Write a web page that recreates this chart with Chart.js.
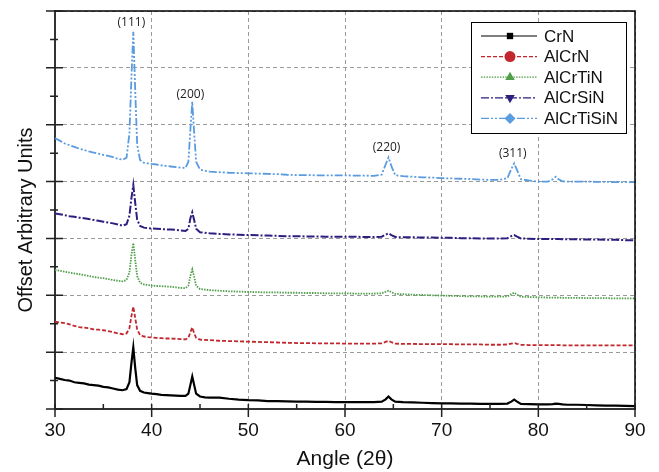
<!DOCTYPE html>
<html>
<head>
<meta charset="utf-8">
<script src="https://cdn.jsdelivr.net/npm/chart.js@4"></script>
<style>
    body { margin: 0; background: #fff; }
    #wrap { width: 659px; height: 472px; position: relative; }
</style>
</head>
<body>
<div id="wrap"><canvas id="xrdChart"></canvas></div>
<script>
const angles = [
    30, 30.5, 31, 31.5, 32, 32.5, 33, 33.5, 34, 34.5, 35, 35.5, 36, 36.5, 37, 37.4, 37.7, 37.9, 38.1, 38.3,
    38.5, 38.8, 39.2, 39.6, 40, 40.5, 41, 41.5, 42, 42.5, 43, 43.5, 43.8, 44.0, 44.2, 44.4, 44.6, 45, 45.5, 46,
    47, 48, 49, 50, 51, 52, 53, 54, 55, 56, 57, 58, 59, 60, 61, 62, 63, 63.8, 64.2, 64.5,
    64.8, 65.2, 66, 67, 68, 69, 70, 71, 72, 73, 74, 75, 76, 76.8, 77.2, 77.5, 77.8, 78.2, 79, 80,
    81, 81.5, 81.8, 82.1, 82.5, 83, 84, 85, 86, 87, 88, 89, 90
];

const crn = [
    0.55, 0.53, 0.51, 0.50, 0.47, 0.46, 0.45, 0.43, 0.42, 0.41, 0.39, 0.38, 0.36, 0.34, 0.33, 0.35, 0.47, 0.80, 1.085, 0.72,
    0.42, 0.32, 0.29, 0.28, 0.27, 0.26, 0.25, 0.245, 0.24, 0.235, 0.23, 0.23, 0.27, 0.42, 0.57, 0.42, 0.27, 0.22, 0.205, 0.20,
    0.20, 0.18, 0.165, 0.155, 0.15, 0.14, 0.14, 0.135, 0.13, 0.13, 0.125, 0.125, 0.12, 0.12, 0.12, 0.12, 0.12, 0.13, 0.17, 0.22,
    0.17, 0.13, 0.12, 0.115, 0.11, 0.105, 0.10, 0.10, 0.095, 0.095, 0.09, 0.09, 0.09, 0.095, 0.13, 0.165, 0.13, 0.09, 0.085, 0.08,
    0.08, 0.085, 0.095, 0.09, 0.08, 0.075, 0.075, 0.07, 0.065, 0.06, 0.06, 0.055, 0.05
];

const alcrn = [
    1.535, 1.52, 1.51, 1.49, 1.46, 1.44, 1.43, 1.42, 1.40, 1.395, 1.385, 1.37, 1.35, 1.33, 1.315, 1.33, 1.42, 1.63, 1.80, 1.60,
    1.40, 1.30, 1.275, 1.265, 1.26, 1.25, 1.245, 1.24, 1.24, 1.235, 1.23, 1.225, 1.25, 1.35, 1.435, 1.33, 1.25, 1.22, 1.215, 1.21,
    1.20, 1.195, 1.19, 1.185, 1.18, 1.175, 1.17, 1.165, 1.16, 1.16, 1.155, 1.155, 1.155, 1.15, 1.15, 1.15, 1.15, 1.155, 1.18, 1.20,
    1.175, 1.15, 1.145, 1.145, 1.14, 1.14, 1.14, 1.14, 1.135, 1.135, 1.135, 1.13, 1.13, 1.135, 1.15, 1.16, 1.145, 1.13, 1.125, 1.125,
    1.125, 1.125, 1.125, 1.125, 1.12, 1.12, 1.12, 1.12, 1.12, 1.12, 1.12, 1.12, 1.12
];

const alcrtin = [
    2.445, 2.43, 2.415, 2.40, 2.385, 2.37, 2.355, 2.34, 2.325, 2.31, 2.30, 2.285, 2.27, 2.255, 2.245, 2.27, 2.40, 2.70, 2.915, 2.62,
    2.34, 2.22, 2.19, 2.18, 2.17, 2.165, 2.16, 2.155, 2.15, 2.14, 2.13, 2.125, 2.17, 2.34, 2.455, 2.32, 2.17, 2.11, 2.10, 2.09,
    2.08, 2.07, 2.065, 2.06, 2.055, 2.05, 2.05, 2.045, 2.045, 2.04, 2.04, 2.035, 2.035, 2.035, 2.03, 2.03, 2.03, 2.035, 2.06, 2.08,
    2.055, 2.025, 2.02, 2.01, 2.005, 2.0, 1.995, 1.99, 1.985, 1.98, 1.98, 1.975, 1.975, 1.98, 2.02, 2.045, 2.01, 1.975, 1.97, 1.965,
    1.96, 1.96, 1.96, 1.96, 1.955, 1.955, 1.955, 1.95, 1.95, 1.95, 1.945, 1.945, 1.945
];

const alcrsin = [
    3.44, 3.425, 3.41, 3.39, 3.38, 3.365, 3.355, 3.34, 3.325, 3.31, 3.295, 3.28, 3.265, 3.245, 3.225, 3.25, 3.40, 3.70, 3.94, 3.62,
    3.33, 3.22, 3.19, 3.18, 3.175, 3.17, 3.165, 3.16, 3.155, 3.15, 3.14, 3.13, 3.17, 3.35, 3.46, 3.32, 3.17, 3.11, 3.10, 3.09,
    3.08, 3.07, 3.065, 3.06, 3.055, 3.05, 3.045, 3.04, 3.04, 3.035, 3.035, 3.03, 3.03, 3.03, 3.03, 3.025, 3.025, 3.03, 3.065, 3.09,
    3.06, 3.025, 3.02, 3.02, 3.015, 3.015, 3.01, 3.01, 3.005, 3.005, 3.0, 3.0, 3.0, 3.005, 3.04, 3.06, 3.03, 3.0, 2.995, 2.99,
    2.99, 2.99, 2.99, 2.99, 2.985, 2.985, 2.985, 2.98, 2.98, 2.975, 2.975, 2.97, 2.97
];

const alcrtisin = [
    4.76, 4.72, 4.67, 4.64, 4.61, 4.58, 4.555, 4.53, 4.51, 4.49, 4.47, 4.45, 4.43, 4.40, 4.385, 4.42, 4.85, 5.80, 6.635, 5.60,
    4.65, 4.38, 4.33, 4.32, 4.31, 4.30, 4.285, 4.275, 4.265, 4.255, 4.245, 4.24, 4.35, 4.90, 5.405, 4.85, 4.35, 4.21, 4.19, 4.175,
    4.165, 4.155, 4.15, 4.145, 4.14, 4.135, 4.13, 4.12, 4.115, 4.115, 4.11, 4.11, 4.11, 4.11, 4.105, 4.105, 4.10, 4.12, 4.30, 4.425,
    4.27, 4.11, 4.095, 4.085, 4.075, 4.07, 4.06, 4.055, 4.05, 4.045, 4.035, 4.03, 4.03, 4.06, 4.22, 4.32, 4.20, 4.04, 4.02, 4.0,
    4.0, 4.04, 4.085, 4.04, 4.005, 4.0, 4.0, 4.0, 3.995, 3.995, 3.99, 3.99, 3.99
];

const seriesNames = ['CrN', 'AlCrN', 'AlCrTiN', 'AlCrSiN', 'AlCrTiSiN'];
const xTicks = [30, 40, 50, 60, 70, 80, 90];
const peakLabels = ['(111)', '(200)', '(220)', '(311)'];
const peakLabelX = [37.9, 44.0, 64.3, 77.35];
const peakLabelY = [6.79, 5.535, 4.6, 4.5];

const styles = [
    { color: '#000000', dash: [], width: 2.2, marker: 'rect', rot: 0 },
    { color: '#c1272d', dash: [4, 2], width: 1.8, marker: 'circle', rot: 0 },
    { color: '#4f9e48', dash: [1.5, 1.2], width: 1.8, marker: 'triangle', rot: 0 },
    { color: '#2b1f80', dash: [8, 2, 2, 2], width: 2, marker: 'triangle', rot: 180 },
    { color: '#5b9be0', dash: [8, 2, 2, 2, 2, 2], width: 1.8, marker: 'rectRot', rot: 0 }
];
const seriesValues = [crn, alcrn, alcrtin, alcrsin, alcrtisin];

const datasets = seriesNames.map((name, i) => ({
    label: name,
    data: angles.map((a, j) => ({ x: a, y: seriesValues[i][j] })),
    borderColor: styles[i].color,
    borderWidth: styles[i].width,
    borderDash: styles[i].dash,
    pointRadius: 0,
    tension: 0,
    fill: false
}));

const FONT = '"Liberation Sans", Arial, sans-serif';

// ticks, frame, labels and legend drawn on top of the chart
const decorPlugin = {
    id: 'decor',
    afterDraw(chart) {
        const ctx = chart.ctx;
        const area = chart.chartArea;
        const xs = chart.scales.x;
        const ys = chart.scales.y;
        ctx.save();

        // frame top/right
        ctx.strokeStyle = '#000';
        ctx.lineWidth = 1.5;
        ctx.beginPath();
        ctx.moveTo(area.left, area.top);
        ctx.lineTo(area.right, area.top);
        ctx.lineTo(area.right, area.bottom);
        ctx.stroke();

        // tick marks
        ctx.strokeStyle = '#222';
        ctx.lineWidth = 1.5;
        ctx.beginPath();
        for (let v = 30; v <= 90; v += 5) {
            const px = xs.getPixelForValue(v);
            const major = v % 10 === 0;
            ctx.moveTo(px, area.bottom - 5);
            ctx.lineTo(px, area.bottom + (major ? 8 : 0));
        }
        for (let v = 0; v <= 7; v += 0.5) {
            const py = ys.getPixelForValue(v);
            const major = v % 1 === 0;
            ctx.moveTo(area.left - (major ? 9 : 5), py);
            ctx.lineTo(area.left + (major ? 8 : 3), py);
        }
        ctx.stroke();

        // y axis title
        ctx.fillStyle = '#111';
        ctx.font = '20px ' + FONT;
        ctx.textAlign = 'center';
        ctx.textBaseline = 'middle';
        ctx.save();
        ctx.translate(26, 220);
        ctx.rotate(-Math.PI / 2);
        ctx.fillText('Offset Arbitrary Units', 0, 0);
        ctx.restore();

        // peak labels
        ctx.font = '12px "Open Sans", sans-serif';
        ctx.fillStyle = '#222';
        peakLabels.forEach((t, i) => {
            ctx.fillText(t, xs.getPixelForValue(peakLabelX[i]), ys.getPixelForValue(peakLabelY[i]));
        });

        // legend
        const bx = 471, by = 22, bw = 155, bh = 111;
        ctx.fillStyle = '#fff';
        ctx.fillRect(bx, by, bw, bh);
        ctx.strokeStyle = '#000';
        ctx.lineWidth = 1;
        ctx.strokeRect(bx + 0.5, by + 0.5, bw, bh);
        ctx.font = '17px ' + FONT;
        ctx.textAlign = 'left';
        chart.data.datasets.forEach((ds, i) => {
            const st = styles[i];
            const ry = 36 + i * 20.6;
            ctx.strokeStyle = st.color;
            ctx.lineWidth = 1.2;
            ctx.setLineDash(st.dash);
            ctx.beginPath();
            ctx.moveTo(481, ry);
            ctx.lineTo(537, ry);
            ctx.stroke();
            ctx.setLineDash([]);
            ctx.fillStyle = st.color;
            Chart.helpers.drawPoint(ctx, {
                pointStyle: st.marker,
                radius: st.marker === 'rect' ? 4.5 : 5.5,
                rotation: st.rot,
                borderWidth: 0
            }, 510, ry);
            ctx.fillStyle = '#111';
            ctx.fillText(ds.label, 544, ry + 1);
        });

        ctx.restore();
    }
};

new Chart(document.getElementById('xrdChart'), {
    type: 'line',
    data: { datasets: datasets },
    options: {
        responsive: true,
        maintainAspectRatio: false,
        animation: false,
        layout: { padding: { top: 11, right: 24, left: 0, bottom: 0 } },
        plugins: {
            legend: { display: false },
            tooltip: { enabled: false }
        },
        scales: {
            x: {
                type: 'linear',
                min: 30,
                max: 90,
                afterFit: function(scale) { scale.height = 63; },
                afterBuildTicks: function(scale) {
                    scale.ticks = xTicks.map(v => ({ value: v }));
                },
                border: { display: true, color: '#333', width: 2, dash: [4, 3] },
                grid: {
                    color: '#9a9a9a',
                    lineWidth: 1,
                    drawTicks: false,
                    tickLength: 0
                },
                ticks: {
                    padding: 10,
                    color: '#111',
                    font: { family: FONT, size: 19 }
                },
                title: {
                    display: true,
                    text: 'Angle (2θ)',
                    color: '#111',
                    font: { family: FONT, size: 21 },
                    padding: 0
                }
            },
            y: {
                min: 0,
                max: 7,
                afterFit: function(scale) { scale.width = 55; },
                border: { display: true, color: '#333', width: 2, dash: [4, 3] },
                grid: {
                    color: '#9a9a9a',
                    lineWidth: 1,
                    drawTicks: false,
                    tickLength: 0
                },
                ticks: { stepSize: 1, display: false }
            }
        }
    },
    plugins: [decorPlugin]
});
</script>
</body>
</html>
